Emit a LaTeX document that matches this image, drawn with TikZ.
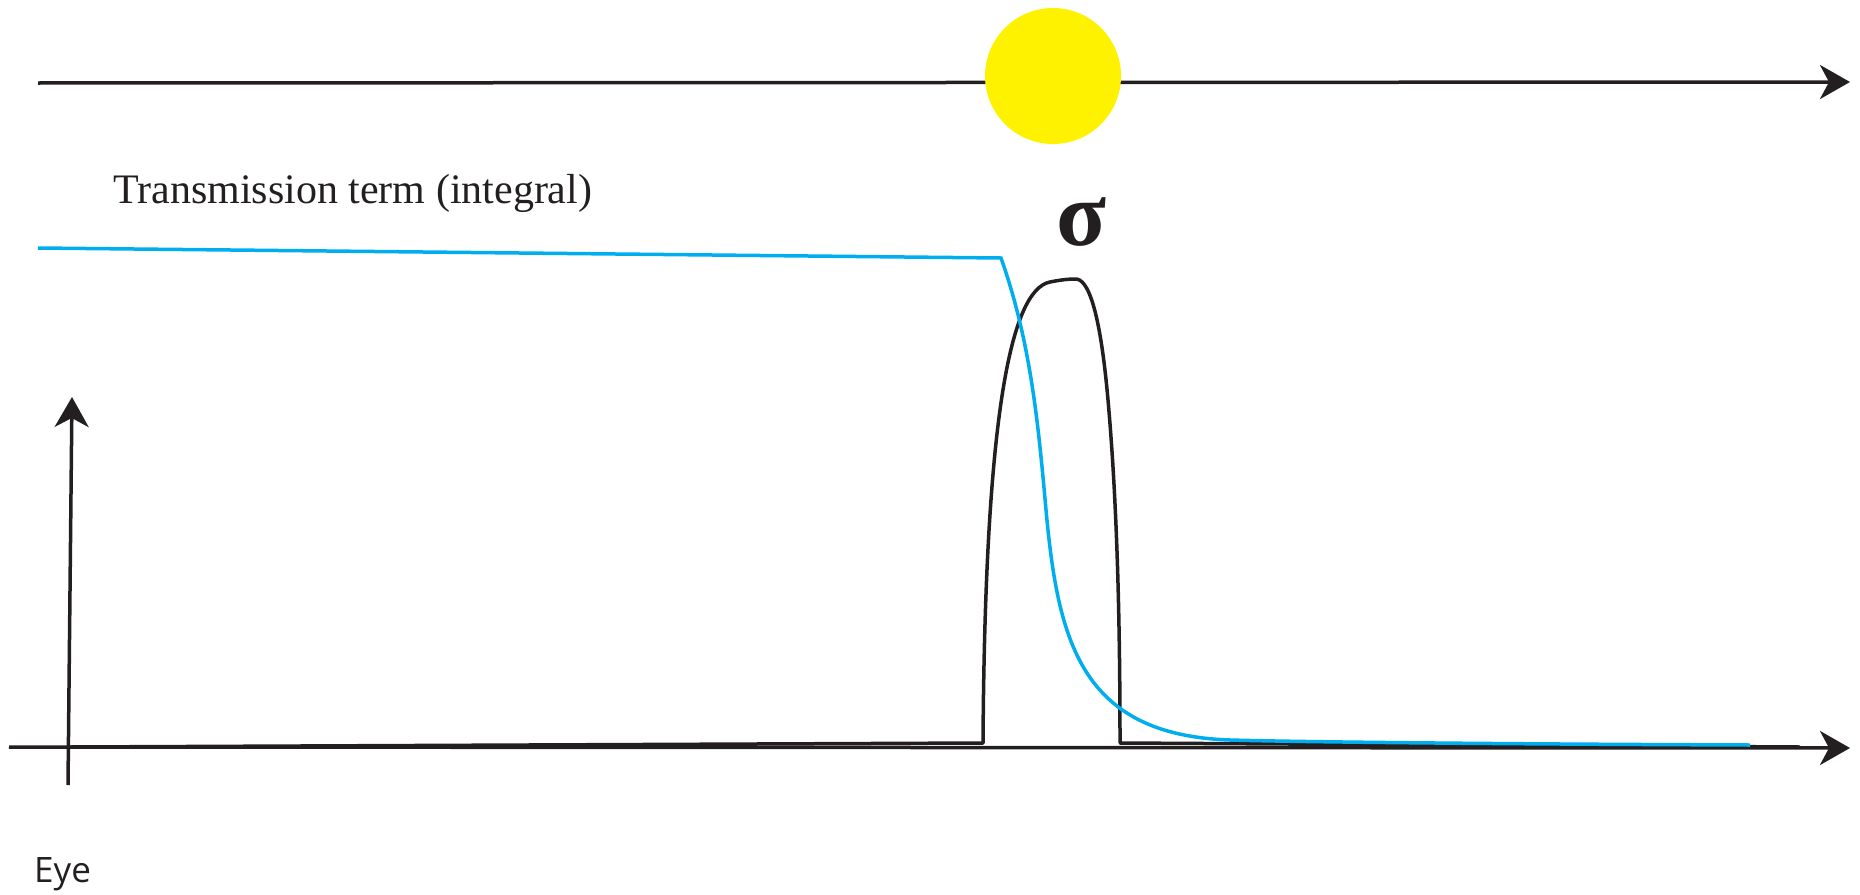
\documentclass[tikz,border=0pt]{standalone}
\usepackage{fontspec}
\setmainfont{Liberation Serif}
\newfontfamily\eyefont{Open Sans}
\usetikzlibrary{arrows.meta}
\definecolor{sunyellow}{HTML}{FFF200}
\definecolor{transblue}{HTML}{00AEEF}
\definecolor{inkblack}{HTML}{231F20}
\begin{document}
\begin{tikzpicture}[x=1pt,y=-1pt,
  axisline/.style={draw=inkblack, line width=3.5pt, -{Stealth[length=30pt,width=34pt,inset=9pt]}},
  curveline/.style={draw=inkblack, line width=3.5pt, line join=round},
  transline/.style={draw=transblue, line width=3.5pt, line join=miter},
  lbl/.style={inner sep=0pt, text=inkblack}]
\useasboundingbox (0,0) rectangle (1860,894);
% top axis with sun
\coordinate (topstart) at (38,83);
\coordinate (topend) at (1850,82);
\draw[axisline] (topstart) -- (topend);
\node[circle, fill=sunyellow, minimum size=136pt, inner sep=0pt] (sun) at (1053,76) {};
% labels
\node[lbl, anchor=base west, font=\fontsize{42}{50}\selectfont] (trans) at (113,203) {Transmission term (integral)};
\node[lbl, anchor=base, font=\fontsize{92}{104}\selectfont\bfseries] (sigma) at (1082,245) {σ};
\node[lbl, anchor=base west, font=\eyefont\fontsize{35}{42}\selectfont] (eye) at (34,882) {Eye};
% bottom axis
\coordinate (botstart) at (9,747);
\coordinate (botend) at (1850,748);
\draw[axisline] (botstart) -- (botend);
% vertical axis
\coordinate (vstart) at (68,785);
\coordinate (vend) at (72,397);
\draw[axisline] (vstart) -- (vend);
% sigma pulse
\draw[curveline] (70,747) -- (983,743)
  .. controls (985,420) and (1010,290) .. (1050,282)
  .. controls (1060,280) and (1068,279) .. (1075,279)
  .. controls (1088,278) and (1100,310) .. (1108,400)
  .. controls (1116,490) and (1120,600) .. (1120,743)
  -- (1800,747);
% transmission curve
\draw[transline] (38,248) -- (1001,258)
  .. controls (1030,340) and (1038,420) .. (1046,510)
  .. controls (1058,640) and (1080,735) .. (1230,740)
  .. controls (1300,742) and (1500,744) .. (1750,745);
\end{tikzpicture}
\end{document}
